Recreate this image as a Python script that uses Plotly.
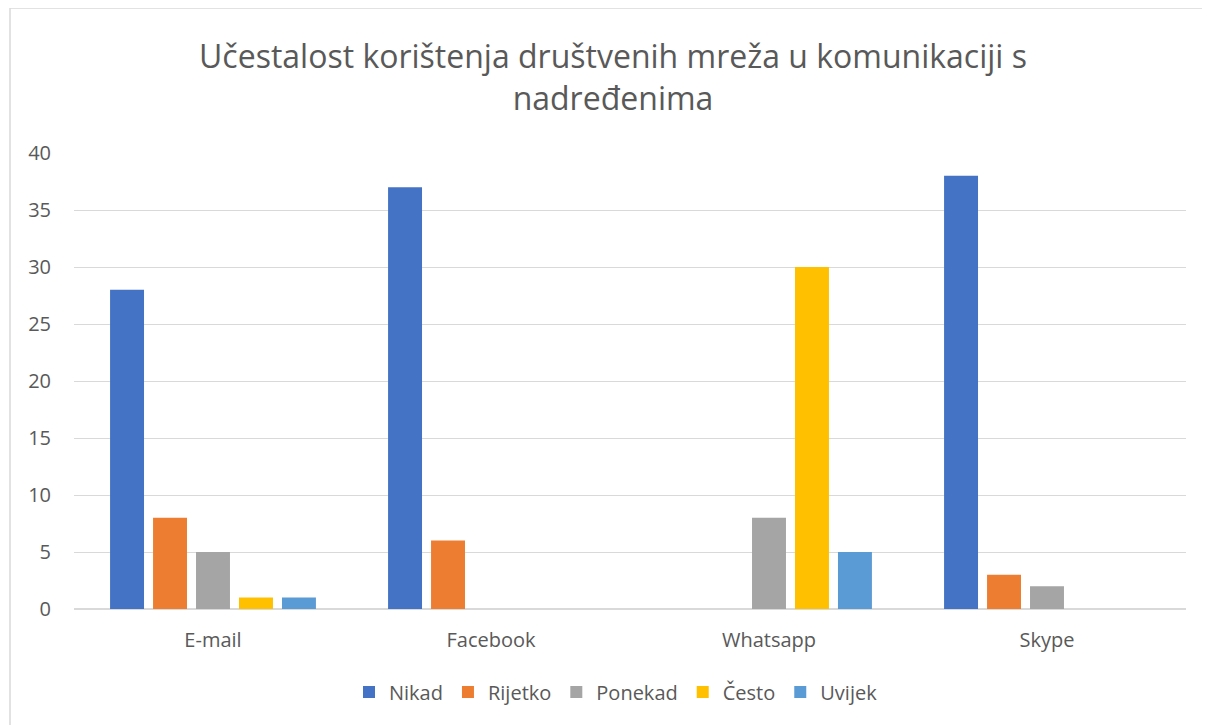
import plotly.graph_objects as go

categories = ["E-mail", "Facebook", "Whatsapp", "Skype"]
series_names = ["Nikad", "Rijetko", "Ponekad", "Često", "Uvijek"]
nikad = [28, 37, 0, 38]
rijetko = [8, 6, 0, 3]
ponekad = [5, 0, 8, 2]
cesto = [1, 0, 30, 0]
uvijek = [1, 0, 5, 0]
series_values = [nikad, rijetko, ponekad, cesto, uvijek]
colors = ["#4472C4", "#ED7D31", "#A5A5A5", "#FFC000", "#5B9BD5"]
y_ticks = [0, 5, 10, 15, 20, 25, 30, 35, 40]

fig = go.Figure()
for name, vals, col in zip(series_names, series_values, colors):
    fig.add_trace(go.Bar(x=categories, y=vals, name=name, marker=dict(color=col, line=dict(width=0))))

OFF = 8  # page body margin
W, H = 1210 - OFF, 717
# reference pixel geometry
ref_left, ref_right, ref_top, ref_bottom = 74, 1186, 153, 609
ml = ref_left - OFF
mr = W - (ref_right - OFF)
mt = ref_top - OFF
mb = H - (ref_bottom - OFF)
pw, ph = W - ml - mr, H - mt - mb

def rx(px):
    return (px - OFF - ml) / pw

def ry(py):
    return (H - mb - (py - OFF)) / ph

FONT = "Open Sans, Lato, sans-serif"
fig.update_layout(
    width=W, height=H,
    margin=dict(l=ml, r=mr, t=mt, b=mb),
    paper_bgcolor="white", plot_bgcolor="white",
    barmode="group", bargap=0.227, bargroupgap=0.21,
    font=dict(family=FONT, color="#595959"),
    title=dict(text="Učestalost korištenja društvenih mreža u komunikaciji s<br>nadređenima",
               x=(613 - OFF) / W, xanchor="center", y=1 - (68 - OFF) / H, yanchor="middle",
               font=dict(size=32, color="#595959", family=FONT)),
    xaxis=dict(showgrid=False, showline=False, ticks="", tickfont=dict(size=20, color="#595959"),
               ticklabelstandoff=17),
    yaxis=dict(range=[0, 40], tickvals=y_ticks, showgrid=True, gridcolor="#d9d9d9", gridwidth=1,
               zeroline=True, zerolinecolor="#d9d9d9", showline=False, ticks="",
               tickfont=dict(size=20, color="#595959"), ticklabelstandoff=22),
    legend=dict(orientation="h", x=rx(616), xanchor="center", y=ry(692), yanchor="middle",
                font=dict(size=20, color="#595959"), itemwidth=30, traceorder="normal"),
    shapes=[
        dict(type="line", xref="paper", yref="paper", x0=rx(10), x1=rx(1215),
             y0=ry(8), y1=ry(8), line=dict(color="#d9d9d9", width=1.5)),
        dict(type="line", xref="paper", yref="paper", x0=rx(10), x1=rx(10),
             y0=ry(8), y1=ry(740), line=dict(color="#d9d9d9", width=1.5)),
    ],
)

fig.write_html("out.html")
